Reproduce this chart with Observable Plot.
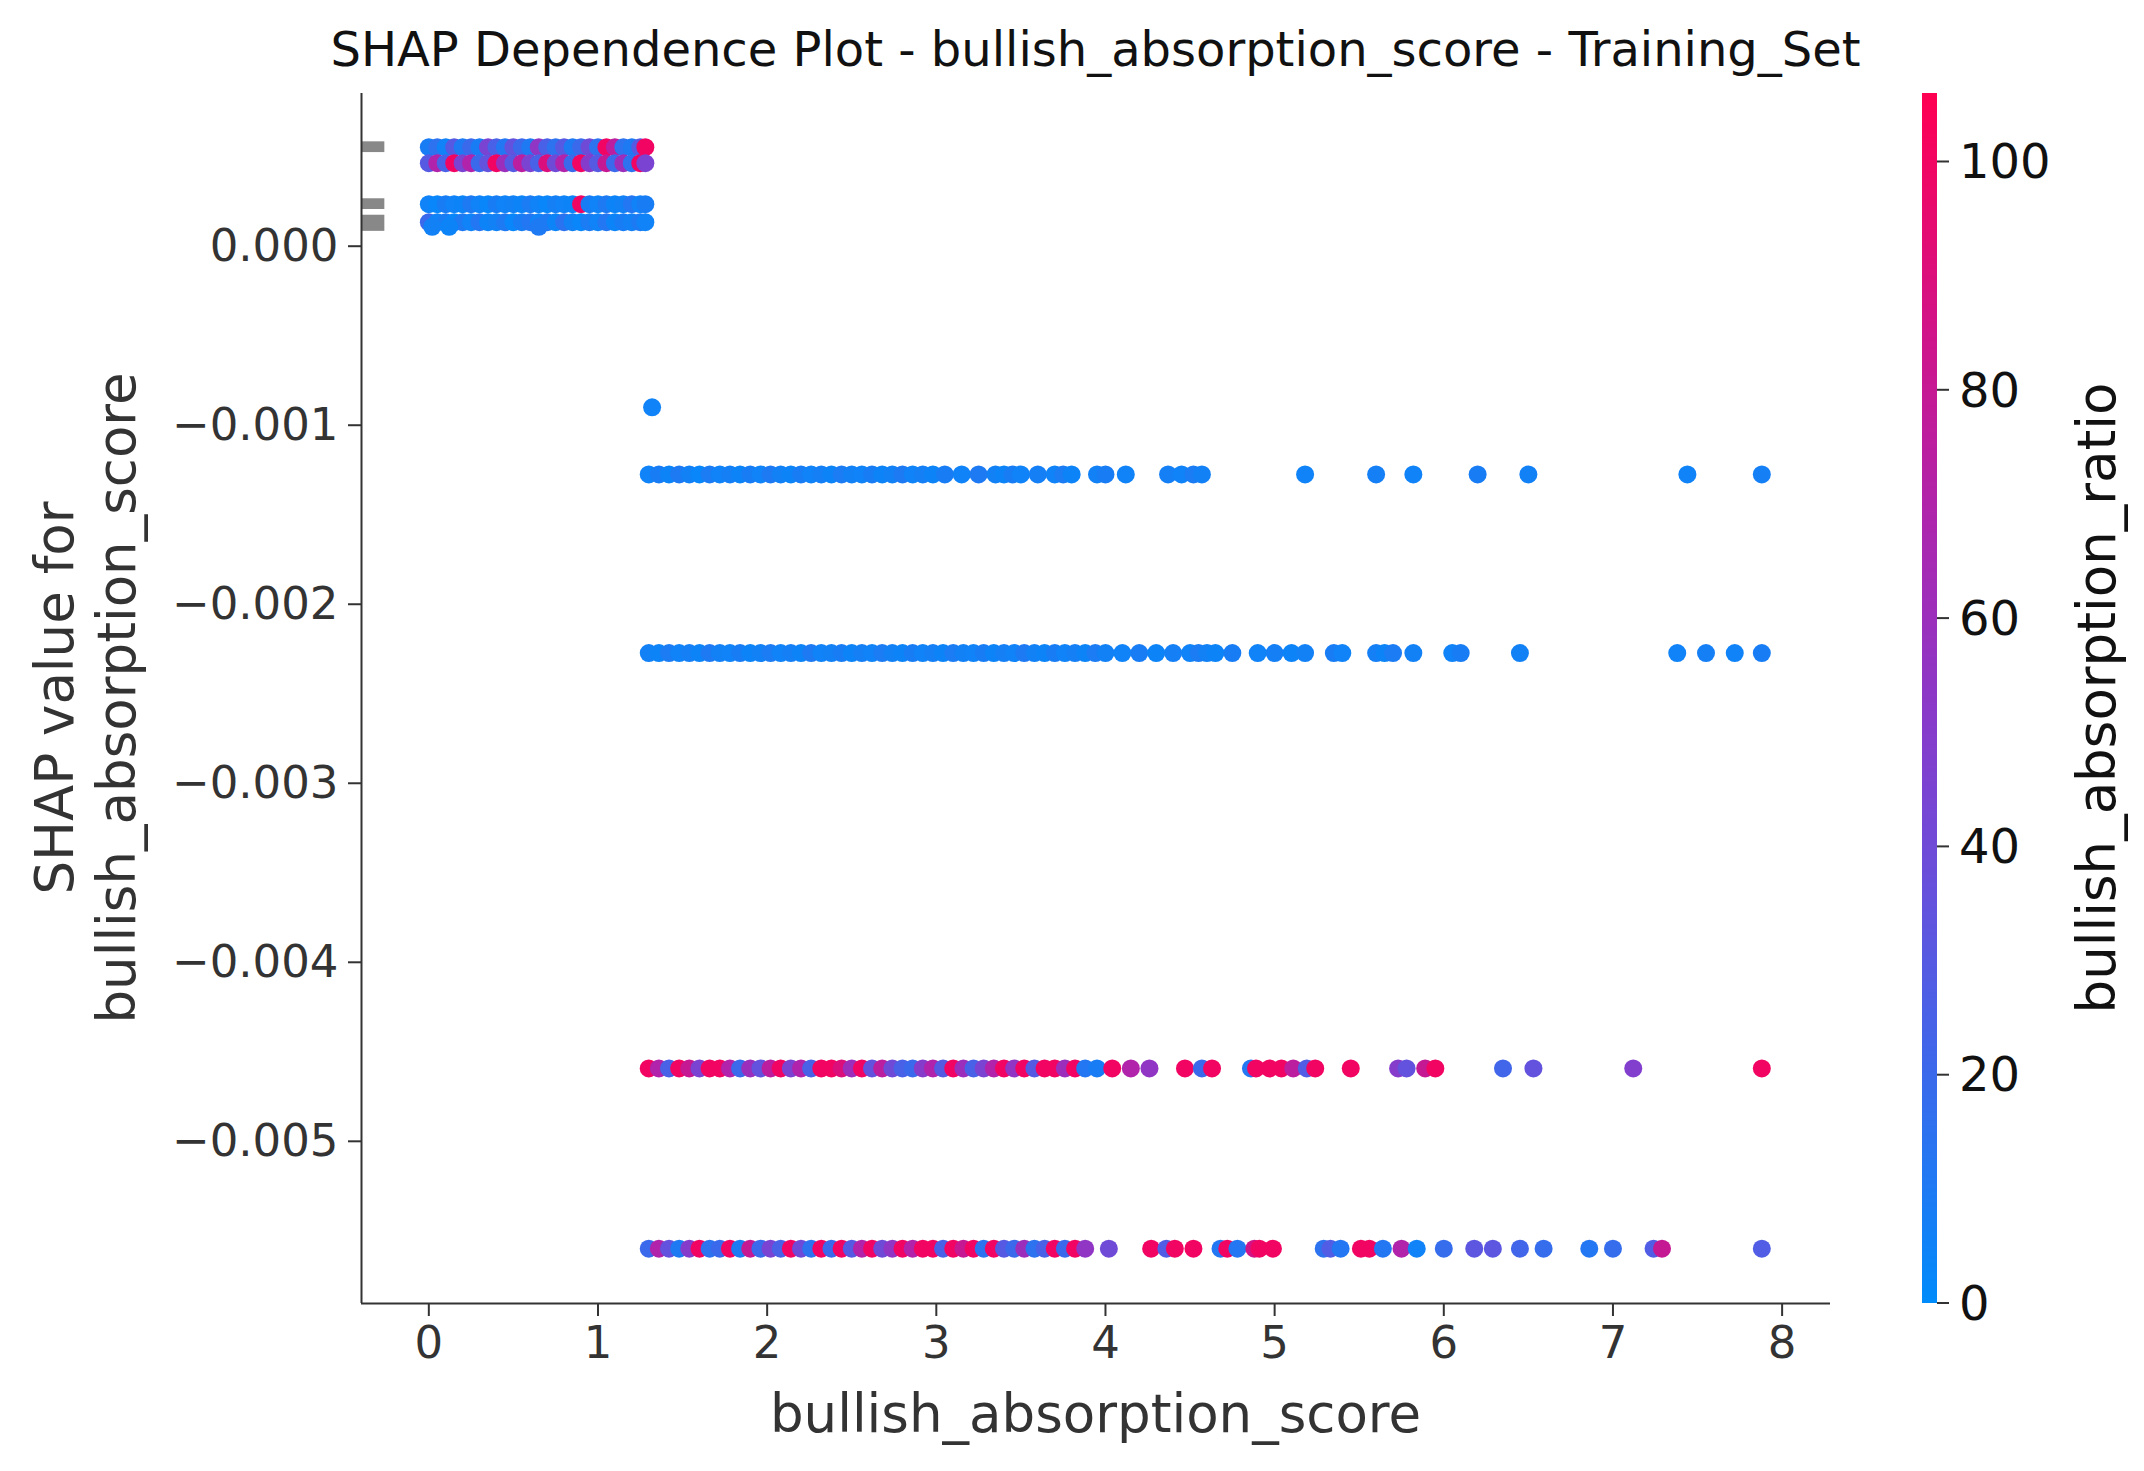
<!DOCTYPE html>
<html><head><meta charset="utf-8">
<script src="https://cdn.jsdelivr.net/npm/d3@7"></script>
<script src="https://cdn.jsdelivr.net/npm/@observablehq/plot@0.6"></script>
<style>body{margin:0;background:#fff;font-family:"DejaVu Sans",sans-serif}</style>
</head><body><div id="c"></div>
<script>
// SHAP levels
const shapLevels = [0.000553, 0.000464, 0.000235, 0.000134, 0.000108, -0.00090, -0.001275, -0.002273, -0.004593, -0.0056];
// [x, ratio] per row
const rowA = [[0,8],[0.05,15],[0.1,5],[0.15,30],[0.2,10],[0.25,20],[0.3,8],[0.35,45],[0.4,25],[0.45,12],[0.5,35],[0.55,20],[0.6,10],[0.65,55],[0.7,25],[0.75,15],[0.8,30],[0.85,10],[0.9,20],[0.95,40],[1.0,15],[1.05,100],[1.1,75],[1.15,15],[1.2,10],[1.25,30],[1.28,100]];
const rowB = [[0,30],[0.05,70],[0.1,25],[0.15,100],[0.2,45],[0.25,70],[0.3,20],[0.35,35],[0.4,100],[0.45,60],[0.5,30],[0.55,75],[0.6,45],[0.65,25],[0.7,90],[0.75,40],[0.8,70],[0.85,20],[0.9,100],[0.95,50],[1.0,30],[1.05,80],[1.1,20],[1.15,60],[1.2,15],[1.25,100],[1.28,45]];
const rowC = [[0,5],[0.05,3],[0.1,8],[0.15,5],[0.2,4],[0.25,10],[0.3,5],[0.35,3],[0.4,8],[0.45,5],[0.5,6],[0.55,4],[0.6,9],[0.65,5],[0.7,3],[0.75,7],[0.8,5],[0.85,4],[0.9,100],[0.95,8],[1.0,5],[1.05,10],[1.1,4],[1.15,6],[1.2,12],[1.25,5],[1.28,8]];
const rowD = [[0,20],[0.05,5],[0.1,8],[0.15,3],[0.2,10],[0.25,5],[0.3,12],[0.35,4],[0.4,6],[0.45,10],[0.5,3],[0.55,8],[0.6,12],[0.65,5],[0.7,10],[0.75,4],[0.8,14],[0.85,6],[0.9,3],[0.95,9],[1.0,5],[1.05,12],[1.1,4],[1.15,8],[1.2,6],[1.25,10],[1.28,5]];
const rowD2 = [[0.02,6],[0.12,4],[0.65,10]];
const rowE = [[1.32,5]];
const rowF = [[1.3,5],[1.36,8],[1.42,4],[1.48,10],[1.54,6],[1.6,3],[1.66,9],[1.72,5],[1.78,7],[1.84,4],[1.9,8],[1.96,5],[2.02,10],[2.08,6],[2.14,4],[2.2,8],[2.26,5],[2.32,7],[2.38,4],[2.44,9],[2.5,6],[2.56,5],[2.62,8],[2.68,4],[2.74,6],[2.8,10],[2.86,5],[2.92,7],[2.98,4],[3.05,8],[3.15,5],[3.25,10],[3.35,6],[3.4,4],[3.45,8],[3.5,5],[3.6,7],[3.7,5],[3.75,9],[3.8,4],[3.95,6],[4.0,8],[4.12,5],[4.37,7],[4.45,5],[4.52,9],[4.57,6],[5.18,5],[5.6,7],[5.82,5],[6.2,8],[6.5,6],[7.44,5],[7.88,7]];
const rowG = [[1.3,6],[1.36,4],[1.42,9],[1.48,5],[1.54,7],[1.6,4],[1.66,10],[1.72,6],[1.78,5],[1.84,8],[1.9,4],[1.96,6],[2.02,9],[2.08,5],[2.14,7],[2.2,4],[2.26,10],[2.32,5],[2.38,6],[2.44,8],[2.5,4],[2.56,7],[2.62,5],[2.68,9],[2.74,6],[2.8,4],[2.86,8],[2.92,5],[2.98,7],[3.04,4],[3.1,9],[3.16,6],[3.22,5],[3.28,8],[3.34,4],[3.4,7],[3.46,5],[3.52,10],[3.58,6],[3.64,4],[3.7,8],[3.76,5],[3.82,7],[3.88,4],[3.94,9],[4.0,6],[4.1,5],[4.2,8],[4.3,4],[4.4,7],[4.5,5],[4.55,9],[4.6,6],[4.65,4],[4.75,8],[4.9,5],[5.0,7],[5.1,4],[5.18,6],[5.35,8],[5.4,5],[5.6,7],[5.65,4],[5.7,9],[5.82,6],[6.05,5],[6.1,8],[6.45,6],[7.38,5],[7.55,7],[7.72,5],[7.88,8]];
const rowH = [[1.3,100],[1.36,70],[1.42,25],[1.48,100],[1.54,80],[1.6,45],[1.66,100],[1.72,100],[1.78,70],[1.84,20],[1.9,60],[1.96,35],[2.02,75],[2.08,100],[2.14,45],[2.2,70],[2.26,25],[2.32,100],[2.38,100],[2.44,90],[2.5,60],[2.56,100],[2.62,35],[2.68,75],[2.74,40],[2.8,25],[2.86,20],[2.92,50],[2.98,70],[3.04,30],[3.1,100],[3.16,60],[3.22,25],[3.28,45],[3.34,70],[3.4,100],[3.46,55],[3.52,100],[3.58,30],[3.64,100],[3.7,100],[3.76,60],[3.82,100],[3.88,12],[3.95,8],[4.04,100],[4.15,70],[4.26,55],[4.47,100],[4.57,20],[4.63,100],[4.86,12],[4.89,100],[4.97,100],[5.04,100],[5.11,75],[5.19,28],[5.24,100],[5.45,100],[5.73,50],[5.78,35],[5.89,80],[5.95,100],[6.35,22],[6.53,35],[7.12,48],[7.88,100]];
const rowI = [[1.3,20],[1.36,70],[1.42,35],[1.48,10],[1.54,50],[1.6,100],[1.66,15],[1.72,20],[1.78,100],[1.84,10],[1.9,80],[1.96,20],[2.02,45],[2.08,25],[2.14,100],[2.2,40],[2.26,15],[2.32,100],[2.38,20],[2.44,100],[2.5,30],[2.56,70],[2.62,100],[2.68,40],[2.74,55],[2.8,100],[2.86,70],[2.92,100],[2.98,100],[3.04,25],[3.1,100],[3.16,80],[3.22,100],[3.28,15],[3.34,100],[3.4,30],[3.46,20],[3.52,60],[3.58,15],[3.64,25],[3.7,100],[3.76,20],[3.82,100],[3.88,55],[4.02,40],[4.27,100],[4.36,28],[4.41,100],[4.52,100],[4.68,12],[4.72,100],[4.78,12],[4.88,85],[4.91,100],[4.99,100],[5.29,15],[5.33,28],[5.39,12],[5.51,100],[5.56,100],[5.64,12],[5.75,70],[5.84,5],[6.0,18],[6.18,32],[6.29,32],[6.45,22],[6.59,18],[6.86,12],[7.0,18],[7.24,28],[7.29,80],[7.88,28]];
const histBars = [[0.000553,0.00003],[0.000235,0.00003],[0.000128,0.000045]];
const xTicks = [0,1,2,3,4,5,6,7,8];
const yTicks = [0,-0.001,-0.002,-0.003,-0.004,-0.005];
const cTicks = [0,20,40,60,80,100];

const rows = [rowA,rowB,rowC,rowD,rowD2,rowE,rowF,rowG,rowH,rowI];
const pts = [];
rows.forEach((r,i)=>r.forEach(([x,c])=>pts.push({x,y:shapLevels[i],c})));
const bars = histBars.map(([y,h])=>({y1:y-h,y2:y+h}));

const W=2144,H=1471, mL=361, mR=314, mT=93, mB=168;
const interp = d3.interpolateRgbBasis(["#008bfb","#6a4fe0","#b020b0","#ff0052"]);
const xDom=[-0.398,8.286], yDom=[-0.005906,0.000853];
const fs=45;
const yFmt = d=>d===0?"0.000":"−"+Math.abs(d).toFixed(3);
const chart = Plot.plot({
  width:W,height:H,marginLeft:mL,marginRight:mR,marginTop:mT,marginBottom:mB,
  style:{fontFamily:"DejaVu Sans",fontSize:fs+"px",color:"#333",background:"#fff"},
  x:{domain:xDom,label:null},
  y:{domain:yDom,label:null},
  color:{type:"linear",domain:[0,106],interpolate:()=>interp},
  marks:[
    Plot.rect(bars,{x1:-0.398,x2:-0.26,y1:"y1",y2:"y2",fill:"#888"}),
    Plot.dot(pts,{x:"x",y:"y",r:9,fill:"c",stroke:null}),
    Plot.axisX({ticks:xTicks,tickSize:13,tickPadding:10,label:null,fontSize:fs,strokeWidth:2}),
    Plot.axisY({ticks:yTicks,tickSize:13,tickPadding:10,label:null,fontSize:fs,tickFormat:yFmt,strokeWidth:2}),
    Plot.ruleX([xDom[0]],{stroke:"#333",strokeWidth:2}),
    Plot.ruleY([yDom[0]],{stroke:"#333",strokeWidth:2})
  ]
});
document.getElementById("c").appendChild(chart);
const svg=d3.select(chart);
svg.append("text").attr("x",(mL+W-mR)/2).attr("y",66).attr("text-anchor","middle").attr("font-size",48).attr("fill","#111").text("SHAP Dependence Plot - bullish_absorption_score - Training_Set");
svg.append("text").attr("x",(mL+W-mR)/2).attr("y",1432).attr("text-anchor","middle").attr("font-size",53).attr("fill","#333").text("bullish_absorption_score");
const yl=svg.append("text").attr("transform",`translate(73,${(mT+H-mB)/2}) rotate(-90)`).attr("text-anchor","middle").attr("font-size",53).attr("fill","#333");
yl.append("tspan").attr("x",0).attr("dy",0).text("SHAP value for");
yl.append("tspan").attr("x",0).attr("dy",62).text("bullish_absorption_score");
// colorbar
const cb={x:1922,w:15,y0:93,y1:1303};
const grad=svg.append("defs").append("linearGradient").attr("id","g").attr("x1",0).attr("x2",0).attr("y1",1).attr("y2",0);
d3.range(0,1.01,0.1).forEach(t=>grad.append("stop").attr("offset",t).attr("stop-color",interp(t)));
svg.append("rect").attr("x",cb.x).attr("y",cb.y0).attr("width",cb.w).attr("height",cb.y1-cb.y0).attr("fill","url(#g)");
const cs=d3.scaleLinear().domain([0,106]).range([cb.y1,cb.y0]);
cTicks.forEach(v=>{
  svg.append("line").attr("x1",cb.x+cb.w).attr("x2",cb.x+cb.w+12).attr("y1",cs(v)).attr("y2",cs(v)).attr("stroke","#333").attr("stroke-width",2);
  svg.append("text").attr("x",cb.x+cb.w+22).attr("y",cs(v)).attr("dy","0.35em").attr("text-anchor","start").attr("font-size",48).attr("fill","#111").text(v);
});
svg.append("text").attr("transform",`translate(2115,${(cb.y0+cb.y1)/2}) rotate(-90)`).attr("text-anchor","middle").attr("font-size",53).attr("fill","#111").text("bullish_absorption_ratio");
</script></body></html>
